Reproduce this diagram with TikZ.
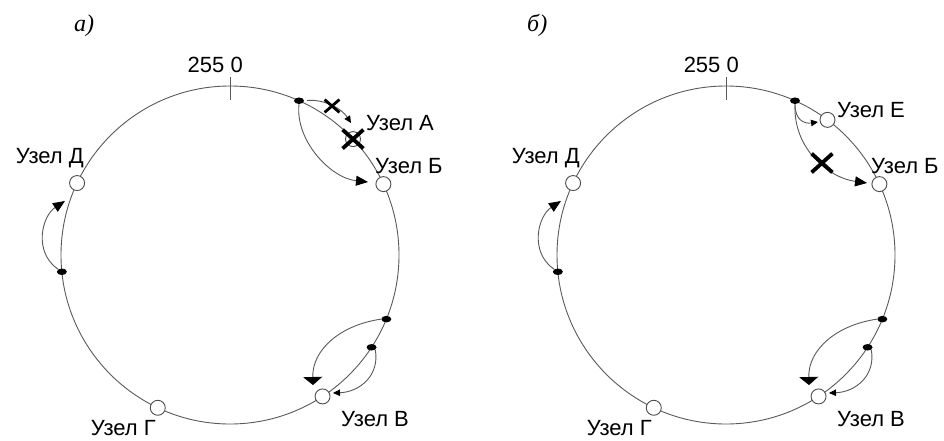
\documentclass[tikz,border=0pt]{standalone}
\usepackage{fontspec}
\setmainfont{Liberation Sans}
\newfontfamily\serifit{Liberation Serif}
\usetikzlibrary{arrows.meta,shapes.geometric,shapes.misc}
\begin{document}
\begin{tikzpicture}[x=1pt,y=1pt,
  ring/.style={draw=black!65, line width=0.9pt},
  hop/.style={draw=black!65, line width=0.9pt},
  nodecirc/.style={circle, draw=black!70, fill=white, line width=0.9pt, minimum size=15pt, inner sep=0pt},
  keydot/.style={ellipse, fill=black, minimum width=10pt, minimum height=6.5pt, inner sep=0pt},
  lbl/.style={font=\fontsize{22}{24}\selectfont, inner sep=0pt},
  sublbl/.style={font=\fontsize{24}{26}\selectfont\serifit\itshape, inner sep=0pt},
  bigX/.style={cross out, draw=black, line width=3.8pt, minimum width=17pt, minimum height=15pt, inner sep=0pt},
  smallX/.style={cross out, draw=black, line width=2.8pt, minimum width=12pt, minimum height=10pt, inner sep=0pt},
  bigtip/.style={-{Triangle[length=12pt,width=10pt,color=black]}},
  smalltip/.style={-{Triangle[length=7pt,width=6.5pt,color=black]}},
  flattip/.style={-{Triangle[length=8pt,width=19pt,color=black]}}
]
\useasboundingbox (0,0) rectangle (944,440);

\node[sublbl, anchor=base west] (subA) at (74,408) {а)};
\node[sublbl, anchor=base west] (subB) at (527,408) {б)};

\foreach \p/\sx in {L/0,R/496}{
\begin{scope}[xshift=\sx pt]
  \coordinate (\p-c) at (230,185);
  \draw[ring] (\p-c) circle[radius=169pt];
  \draw[ring] ([shift={(90:155pt)}]\p-c) -- ([shift={(90:178pt)}]\p-c);
  \node[lbl, anchor=base east] (\p-zero) at (243,367) {255 0};

  % nodes on the ring
  \node[nodecirc] (\p-D) at ([shift={(154.8:169pt)}]\p-c) {};
  \node[nodecirc] (\p-G) at ([shift={(244.7:169pt)}]\p-c) {};
  \node[nodecirc] (\p-V) at ([shift={(-56.8:169pt)}]\p-c) {};
  \node[nodecirc] (\p-B) at ([shift={(24.8:169pt)}]\p-c) {};
  % keys (dots)
  \node[keydot] (\p-DD) at ([shift={(185.7:169pt)}]\p-c) {};
  \node[keydot] (\p-VD1) at ([shift={(-22.3:169pt)}]\p-c) {};
  \node[keydot] (\p-VD2) at ([shift={(-33.1:169pt)}]\p-c) {};
  \node[keydot] (\p-TD) at ([shift={(65.9:169pt)}]\p-c) {};

  % labels
  \node[lbl, anchor=base east] (\p-lD) at (84,277) {Узел Д};
  \node[lbl, anchor=base east] (\p-lG) at (156,5) {Узел Г};
  \node[lbl, anchor=base west] (\p-lV) at (341,14) {Узел В};
  \node[lbl, anchor=base west] (\p-lB) at (375,267) {Узел Б};

  % arcs common
  \coordinate (\p-Dtip) at (65,239);
  \draw[hop, bigtip] (\p-DD.north west) .. controls (33,188) and (42,224) .. (\p-Dtip);
  \coordinate (\p-Vtip1) at (313,55);
  \draw[hop, flattip] (\p-VD1.west) .. controls (340,115) and (312,90) .. (\p-Vtip1);
  \coordinate (\p-Vtip2) at (333,47);
  \draw[hop, smalltip] (\p-VD2.south east) .. controls (380,65) and (360,48) .. (\p-Vtip2);
\end{scope}
}

% left diagram specifics
\node[nodecirc] (L-A) at ([shift={(43.3:169pt)}]L-c) {};
\node[bigX] (L-xA) at (L-A) {};
\node[lbl, anchor=base west] (L-lA) at (366,310) {Узел А};
\coordinate (L-Atip) at (351,317);
\draw[hop, smalltip, shorten <=3pt] (L-TD.east) .. controls (325,341) and (342,331) .. (L-Atip);
\node[smallX] (L-x1) at (332,334) {};
\coordinate (L-Btip) at (368,258);
\draw[hop, bigtip] (L-TD.south) .. controls (295,300) and (330,262) .. (L-Btip);

% right diagram specifics
\begin{scope}[xshift=496pt]
  \node[nodecirc] (R-E) at ([shift={(53.1:169pt)}]R-c) {};
  \node[lbl, anchor=base west] (R-lE) at (341,323) {Узел Е};
  \coordinate (R-Etip) at (322,318);
  \draw[hop, smalltip] (R-TD.south) .. controls (299,320) and (308,316) .. (R-Etip);
  \coordinate (R-Btip) at (371,257);
  \draw[hop, bigtip] (R-TD.south) .. controls (297,290) and (334,262) .. (R-Btip);
  \node[bigX] (R-x1) at (326,277) {};
\end{scope}
\end{tikzpicture}
\end{document}
